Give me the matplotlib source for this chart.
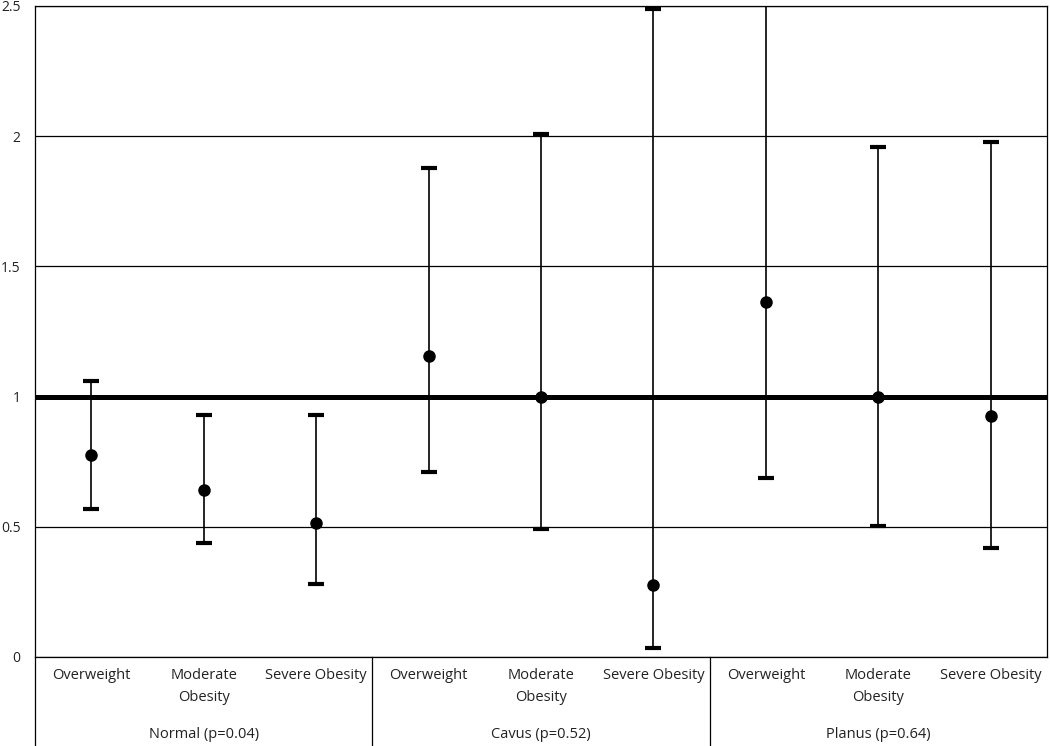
import matplotlib.pyplot as plt
from matplotlib.lines import Line2D
from matplotlib.transforms import blended_transform_factory

# Data (odds ratios with confidence intervals)
groups = ['Normal (p=0.04)', 'Cavus (p=0.52)', 'Planus (p=0.64)']
categories = ['Overweight', 'Moderate\nObesity', 'Severe Obesity']
estimate = [0.775, 0.64, 0.513, 1.156, 0.997, 0.277, 1.363, 1.0, 0.925]
lower = [0.567, 0.439, 0.280, 0.710, 0.490, 0.035, 0.687, 0.503, 0.419]
upper = [1.058, 0.929, 0.929, 1.878, 2.008, 2.490, 2.700, 1.958, 1.978]
yticks = [0, 0.5, 1, 1.5, 2, 2.5]
ytick_labels = ['0', '0.5', '1', '1.5', '2', '2.5']

plt.rcParams['font.family'] = ['Open Sans', 'DejaVu Sans']
text_color = '#222222'

fig = plt.figure(figsize=(10.5, 7.46), dpi=100)
ax = fig.add_axes([35 / 1050, 89 / 746, 1012 / 1050, 651 / 746])

n = len(estimate)
xs = [i + 0.5 for i in range(n)]

# Gridlines
for y in yticks:
    ax.axhline(y, color='black', lw=0.9, zorder=1)
ax.axhline(1, color='black', lw=3.6, zorder=2)

# Error bars
err_lo = [e - l for e, l in zip(estimate, lower)]
err_hi = [u - e for e, u in zip(estimate, upper)]
ax.errorbar(xs, estimate, yerr=[err_lo, err_hi], fmt='o', color='black',
            ms=8, elinewidth=1.2, capsize=6, capthick=3, zorder=3)

ax.set_xlim(0, n)
ax.set_ylim(0, 2.5)
ax.set_yticks(yticks)
ax.set_yticklabels(ytick_labels, fontsize=10, color=text_color)
ax.tick_params(axis='y', length=0, pad=10.5)

ax.set_xticks(xs)
ax.set_xticklabels(categories * len(groups), fontsize=10.5, linespacing=1.6,
                   color=text_color)
ax.tick_params(axis='x', length=0, pad=8)

for side in ['top', 'right', 'left', 'bottom']:
    ax.spines[side].set_linewidth(0.9)

# Group separators extending below the axis
bottom = -89 / 651
trans = blended_transform_factory(ax.transData, ax.transAxes)
for gx in [0, 3, 6]:
    ax.add_line(Line2D([gx, gx], [0, bottom], transform=trans, color='black',
                       lw=0.9, clip_on=False))

for i, g in enumerate(groups):
    ax.text(i * 3 + 1.5, -77 / 651, g, transform=trans, ha='center',
            va='center', fontsize=10.5, color=text_color)

fig.savefig('out.png', dpi=100)
